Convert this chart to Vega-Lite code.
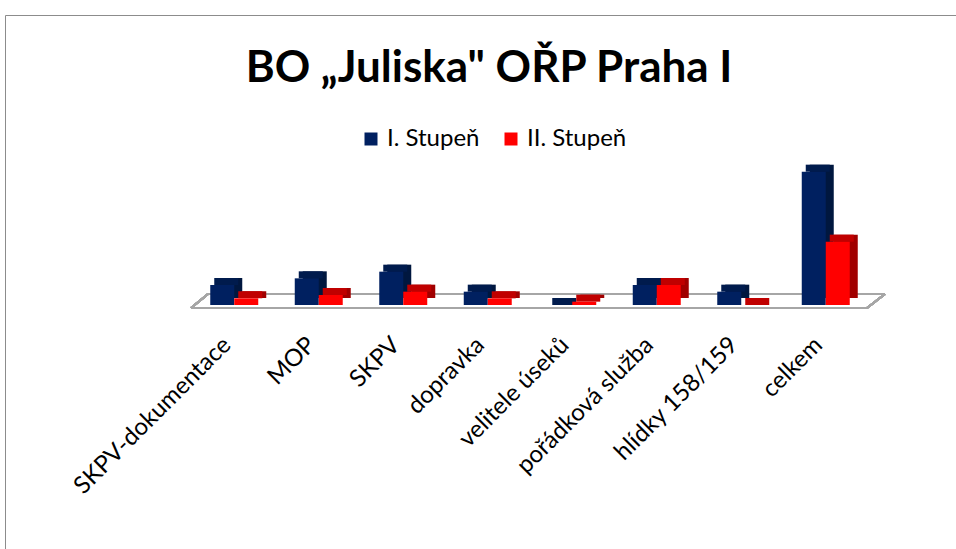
{
  "$schema": "https://vega.github.io/schema/vega-lite/v6.json",
  "autosize": {"type": "none"},
  "width": 952,
  "height": 535,
  "padding": {"left": 5, "top": 15, "right": -1, "bottom": -1},
  "background": "white",
  "config": {"view": {"stroke": "#8C8C8C", "strokeWidth": 1}, "font": "Lato"},
  "title": {
    "text": "BO „Juliska\" OŘP Praha I",
    "font": "Lato",
    "fontSize": 44,
    "fontWeight": "bold",
    "color": "#000000",
    "anchor": "middle",
    "frame": "group",
    "baseline": "alphabetic",
    "dx": 8,
    "offset": -111
  },
  "data": {
    "values": [
      {"category": "SKPV-dokumentace", "series": "I. Stupeň", "value": 6},
      {"category": "SKPV-dokumentace", "series": "II. Stupeň", "value": 2},
      {"category": "MOP", "series": "I. Stupeň", "value": 8},
      {"category": "MOP", "series": "II. Stupeň", "value": 3},
      {"category": "SKPV", "series": "I. Stupeň", "value": 10},
      {"category": "SKPV", "series": "II. Stupeň", "value": 4},
      {"category": "dopravka", "series": "I. Stupeň", "value": 4},
      {"category": "dopravka", "series": "II. Stupeň", "value": 2},
      {"category": "velitele úseků", "series": "I. Stupeň", "value": 0},
      {"category": "velitele úseků", "series": "II. Stupeň", "value": 1},
      {"category": "pořádková služba", "series": "I. Stupeň", "value": 6},
      {"category": "pořádková služba", "series": "II. Stupeň", "value": 6},
      {"category": "hlídky 158/159", "series": "I. Stupeň", "value": 4},
      {"category": "hlídky 158/159", "series": "II. Stupeň", "value": 0},
      {"category": "celkem", "series": "I. Stupeň", "value": 40},
      {"category": "celkem", "series": "II. Stupeň", "value": 19}
    ]
  },
  "layer": [
    {
      "mark": {"type": "rule", "stroke": "#A6A6A6", "strokeWidth": 2, "xOffset": 17, "x2Offset": 18, "yOffset": -11, "y2Offset": -11},
      "encoding": {
        "x": {"datum": 0, "type": "quantitative", "scale": {"domain": [0, 1], "range": [186, 862]}, "axis": null},
        "x2": {"datum": 1},
        "y": {"datum": 0, "type": "quantitative", "scale": {"domain": [0, 45], "range": [290, 140]}, "axis": null},
        "y2": {"datum": 0}
      }
    },
    {
      "mark": {"type": "rule", "stroke": "#A6A6A6", "strokeWidth": 2, "yOffset": 3, "y2Offset": 3},
      "encoding": {
        "x": {"datum": 0, "type": "quantitative", "scale": {"domain": [0, 1], "range": [186, 862]}, "axis": null},
        "x2": {"datum": 1},
        "y": {"datum": 0, "type": "quantitative"},
        "y2": {"datum": 0}
      }
    },
    {
      "mark": {"type": "rule", "stroke": "#A6A6A6", "strokeWidth": 2, "x2Offset": 17, "yOffset": 3, "y2Offset": -11},
      "encoding": {
        "x": {"datum": 0, "type": "quantitative", "scale": {"domain": [0, 1], "range": [186, 862]}, "axis": null},
        "x2": {"datum": 0},
        "y": {"datum": 0, "type": "quantitative"},
        "y2": {"datum": 0}
      }
    },
    {
      "mark": {"type": "rule", "stroke": "#A6A6A6", "strokeWidth": 2, "x2Offset": 18, "yOffset": 3, "y2Offset": -11},
      "encoding": {
        "x": {"datum": 1, "type": "quantitative", "scale": {"domain": [0, 1], "range": [186, 862]}, "axis": null},
        "x2": {"datum": 1},
        "y": {"datum": 0, "type": "quantitative"},
        "y2": {"datum": 0}
      }
    },
    {
      "mark": {"type": "bar", "yOffset": -7},
      "encoding": {
        "x": {"field": "category", "type": "nominal", "sort": null, "scale": {"range": [187, 863], "paddingInner": 0.432, "paddingOuter": 0.216}, "axis": null},
        "xOffset": {"field": "series", "type": "nominal", "scale": {"range": [8, 56]}},
        "y": {"field": "value", "type": "quantitative"},
        "fill": {"condition": {"test": "datum.series === 'I. Stupeň'", "value": "#00173F"}, "value": "#A00000"}
      }
    },
    {
      "mark": {"type": "bar", "yOffset": -7},
      "encoding": {
        "x": {"field": "category", "type": "nominal", "sort": null, "scale": {"range": [187, 863], "paddingInner": 0.432, "paddingOuter": 0.216}, "axis": null},
        "xOffset": {"field": "series", "type": "nominal", "scale": {"range": [4, 52]}},
        "y": {"field": "value", "type": "quantitative"},
        "y2": {"field": "value"},
        "fill": {"condition": {"test": "datum.series === 'I. Stupeň'", "value": "#001B4D"}, "value": "#C00000"}
      }
    },
    {
      "mark": {"type": "bar"},
      "encoding": {
        "x": {
          "field": "category",
          "type": "nominal",
          "sort": null,
          "scale": {"range": [187, 863], "paddingInner": 0.432, "paddingOuter": 0.216},
          "axis": {
            "title": null,
            "domain": false,
            "ticks": false,
            "offset": -245,
            "labelAngle": -45,
            "labelAlign": "right",
            "labelBaseline": "middle",
            "labelFont": "Lato",
            "labelFontSize": 24,
            "labelColor": "#000000",
            "labelPadding": 36,
            "labelOffset": -7,
            "labelLimit": 400,
            "labelOverlap": false
          }
        },
        "xOffset": {"field": "series", "type": "nominal", "scale": {"paddingInner": 0, "paddingOuter": 0}},
        "y": {"field": "value", "type": "quantitative"},
        "color": {
          "field": "series",
          "type": "nominal",
          "scale": {"domain": ["I. Stupeň", "II. Stupeň"], "range": ["#002060", "#FF0000"]},
          "legend": {
            "title": null,
            "orient": "none",
            "direction": "horizontal",
            "legendX": 354,
            "legendY": 112,
            "symbolType": "square",
            "symbolSize": 169,
            "symbolStrokeWidth": 0,
            "labelFont": "Lato",
            "labelFontSize": 24,
            "labelColor": "#000000",
            "labelOffset": 4,
            "columnPadding": 19
          }
        }
      }
    }
  ],
  "resolve": {"scale": {"x": "independent", "xOffset": "independent"}}
}
